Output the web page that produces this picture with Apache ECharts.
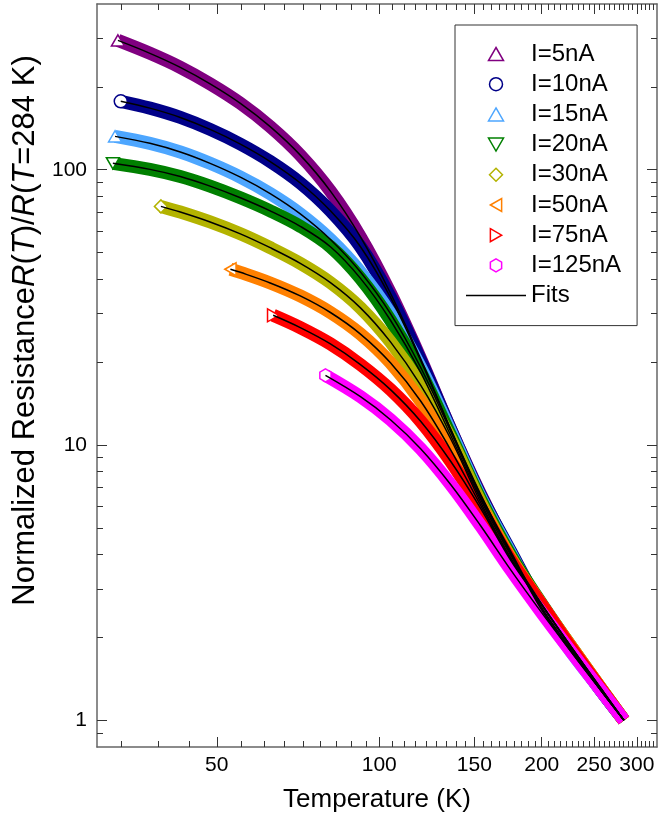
<!DOCTYPE html>
<html><head><meta charset="utf-8">
<script src="https://cdn.jsdelivr.net/npm/echarts@6/dist/echarts.min.js"></script>
<style>html,body{margin:0;padding:0;background:#fff}#c{width:671px;height:818px}</style>
</head><body><div id="c"></div>
<script>
// ---- data ----
const currents = ['I=5nA','I=10nA','I=15nA','I=20nA','I=30nA','I=50nA','I=75nA','I=125nA'];

const T_5nA  = [32.8,37.6,42.8,48.6,55.3,62.8,71.4,81.2,92.3,104.9,119.3,135.6,154.1,175.2,199.1,226.4,257.3,284];
const R_5nA  = [295,264.8,235.5,205.1,174.3,143.4,113.0,83.6,57.0,35.6,20.6,11.43,6.62,4.04,2.595,1.811,1.285,1.0];

const T_10nA = [33.2,37.6,42.8,48.6,55.3,62.8,71.4,81.2,92.3,104.9,119.3,135.6,154.1,175.2,199.1,226.4,257.3,284];
const R_10nA = [177.3,167.4,154.9,140.1,123.9,107.1,89.5,70.9,52.5,34.4,20.3,11.40,6.57,4.11,2.595,1.811,1.285,1.0];

const T_15nA = [32.4,37.6,42.8,48.6,55.3,62.8,71.4,81.2,92.3,104.9,119.3,135.6,154.1,175.2,199.1,226.4,257.3,284];
const R_15nA = [132.2,124.7,116.0,105.5,94.0,81.9,69.1,55.8,42.5,30.0,19.15,11.21,6.46,4.04,2.551,1.781,1.285,1.0];

const T_20nA = [32.1,37.6,42.8,48.6,55.3,62.8,71.4,81.2,92.3,104.9,119.3,135.6,154.1,175.2,199.1,226.4,257.3,284];
const R_20nA = [105.5,100.3,94.5,87.2,79.1,70.9,62.3,52.5,40.3,28.4,18.37,10.85,6.35,3.98,2.683,1.857,1.307,1.0];

const T_30nA = [39.4,42.8,48.6,55.3,62.8,71.4,81.2,92.3,104.9,119.3,135.6,154.1,175.2,199.1,226.4,257.3,284];
const R_30nA = [73.6,70.2,64.6,58.5,52.1,45.7,38.9,31.5,23.7,16.5,10.54,6.19,3.88,2.661,1.857,1.307,1.0];

const T_50nA = [53.0,55.3,62.8,71.4,81.2,92.3,104.9,119.3,135.6,154.1,175.2,199.1,226.4,257.3,284];
const R_50nA = [43.5,42.4,38.8,34.8,30.3,25.3,19.9,14.45,9.61,6.04,3.877,2.661,1.857,1.307,1.0];

const T_75nA = [63.6,71.4,81.2,92.3,104.9,119.3,135.6,154.1,175.2,199.1,226.4,257.3,284];
const R_75nA = [29.6,26.7,23.3,19.6,15.9,12.2,8.73,5.89,3.814,2.661,1.841,1.301,1.0];

const T_125nA = [79.5,92.3,104.9,119.3,135.6,154.1,175.2,199.1,226.4,257.3,284];
const R_125nA = [17.9,14.98,12.36,9.70,7.19,5.09,3.52,2.488,1.781,1.285,1.0];

const xTickLabels = [50,100,150,200,250,300];
const yTickLabels = [1,10,100];
const xRange = [30,327];
const yRange = [0.8,400];

// ---- styling ----
const FONT = 'Liberation Sans, Arial, Helvetica, sans-serif';
const colors = ['#800080','#000088','#4da6ff','#008000','#b3b300','#ff8000','#ff0000','#ff00ff'];
const TRI_UP = 'path://M5,0L10,8.66L0,8.66Z';
const TRI_DOWN = 'path://M0,0L10,0L5,8.66Z';
const TRI_LEFT = 'path://M0,5L8.66,0L8.66,10Z';
const TRI_RIGHT = 'path://M0,0L8.66,5L0,10Z';
const DIAMOND = 'path://M5,0L10,5L5,10L0,5Z';
const HEX = 'path://M5,0L9.33,2.5L9.33,7.5L5,10L0.67,7.5L0.67,2.5Z';
const symbols = [TRI_UP,'circle',TRI_UP,TRI_DOWN,DIAMOND,TRI_LEFT,TRI_RIGHT,HEX];
const Ts = [T_5nA,T_10nA,T_15nA,T_20nA,T_30nA,T_50nA,T_75nA,T_125nA];
const Rs = [R_5nA,R_10nA,R_15nA,R_20nA,R_30nA,R_50nA,R_75nA,R_125nA];

// minor ticks
const xStep = xTickLabels[1]-xTickLabels[0];
const xMinor = [];
for (let m = 1; m * xStep / 9 < xRange[1]; m++) {
  const v = m * xStep / 9;
  if (v > xRange[0] && m % 9 !== 0) xMinor.push(v);
}
const yMinor = [];
[0.1,1,10,100].forEach(d => { for (let k = 2; k <= 9; k++) { const v = k*d; if (v > yRange[0] && v < yRange[1]) yMinor.push(v); } });

const L = Math.log10;
const AXC = '#666', TKC = '#333';

function deco(kind, pos, vals, len, showLine, labels, extra) {
  const ax = {
    type: 'value', min: L((kind==='x'?xRange:yRange)[0]), max: L((kind==='x'?xRange:yRange)[1]),
    position: pos, gridIndex: 0,
    axisLine: {show: showLine, onZero: false, lineStyle: {color: AXC, width: 1.5}},
    axisTick: {show: true, inside: true, length: len, customValues: vals.map(L), lineStyle: {color: TKC, width: 1}},
    axisLabel: labels ? {show: true, customValues: vals.map(L), formatter: v => String(Math.round(Math.pow(10, v))), fontSize: 21, color: '#000', fontFamily: FONT, margin: kind==='x'?8:10} : {show: false},
    splitLine: {show: false}
  };
  return Object.assign(ax, extra || {});
}

const series = [];
currents.forEach((name, i) => {
  series.push({
    type: 'line', name: name, xAxisIndex: 0, yAxisIndex: 0, z: 2, silent: true,
    data: Ts[i].map((t, j) => j === 0 ? {value: [t, Rs[i][j]]} : {value: [t, Rs[i][j]], symbol: 'none'}),
    smooth: 0.35, symbol: symbols[i], symbolSize: 13, symbolKeepAspect: true,
    itemStyle: {color: '#fff', borderColor: colors[i], borderWidth: 1.5},
    lineStyle: {color: colors[i], width: 13, cap: 'butt', join: 'round'}
  });
});
currents.forEach((name, i) => {
  series.push({
    type: 'line', name: 'Fits', xAxisIndex: 0, yAxisIndex: 0, z: 3, silent: true,
    data: Ts[i].map((t, j) => [t, Rs[i][j]]),
    smooth: 0.35, symbol: 'none', lineStyle: {color: '#000', width: 1.5}
  });
});

const legendData = currents.map((n, i) => ({name: n, icon: symbols[i], itemStyle: {color: '#fff', borderColor: colors[i], borderWidth: 1.5}}));
legendData.push({name: 'Fits', icon: 'path://M0,0L55,0L55,1.4L0,1.4Z', itemStyle: {color: '#000', borderWidth: 0}});

const option = {
  animation: false,
  backgroundColor: '#fff',
  textStyle: {fontFamily: FONT},
  grid: {left: 97, right: 14, top: 4, bottom: 71},
  xAxis: [
    {type: 'log', logBase: 10, min: xRange[0], max: xRange[1], show: false, gridIndex: 0},
    deco('x', 'bottom', xTickLabels, 10, true, true, {name: 'Temperature (K)', nameLocation: 'middle', nameGap: 40, nameTextStyle: {fontSize: 26, color: '#000', fontFamily: FONT}}),
    deco('x', 'bottom', xMinor, 6, false, false),
    deco('x', 'top', xTickLabels, 10, true, false),
    deco('x', 'top', xMinor, 6, false, false)
  ],
  yAxis: [
    {type: 'log', logBase: 10, min: yRange[0], max: yRange[1], show: false, gridIndex: 0},
    deco('y', 'left', yTickLabels, 10, true, true, {
      name: '{n|Normalized Resistance}{i|R}{n|(}{i|T}{n|)/}{i|R}{n|(}{i|T}{n|=284 K)}',
      nameLocation: 'middle', nameGap: 50,
      nameTextStyle: {fontSize: 31, color: '#000', fontFamily: FONT, padding: [0, 0, 0, 90],
        rich: {n: {fontSize: 31, color: '#000', fontFamily: FONT}, i: {fontSize: 31, color: '#000', fontFamily: FONT, fontStyle: 'italic'}}}
    }),
    deco('y', 'left', yMinor, 6, false, false),
    deco('y', 'right', yTickLabels, 10, true, false),
    deco('y', 'right', yMinor, 6, false, false)
  ],
  legend: {
    orient: 'vertical', left: 455, top: 25,
    padding: [17, 16, 18, 11],
    itemWidth: 60, itemHeight: 13, itemGap: 6.2,
    borderColor: '#333', borderWidth: 1, backgroundColor: '#fff',
    textStyle: {fontSize: 24, color: '#000', fontFamily: FONT},
    selectedMode: false,
    data: legendData
  },
  series: series
};
const chart = echarts.init(document.getElementById('c'), null, {renderer: 'canvas'});
chart.setOption(option);
</script></body></html>
